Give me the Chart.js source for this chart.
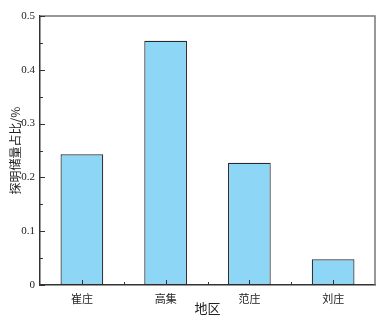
<!DOCTYPE html>
<html lang="zh">
<head>
    <meta charset="UTF-8">
    <title>探明储量占比</title>
    <script src="https://cdn.jsdelivr.net/npm/chart.js"></script>
    <style>
        html, body { margin: 0; padding: 0; background: #fff; }
        #wrap { width: 389px; height: 326px; }
    </style>
</head>
<body>
    <div id="wrap"><canvas id="chart"></canvas></div>

    <script>
        // data
        const regions = ["崔庄", "高集", "范庄", "刘庄"];
        const shares = [0.243, 0.454, 0.227, 0.048];
        const yTicks = [0, 0.1, 0.2, 0.3, 0.4, 0.5];

        const serif = "'Liberation Serif', 'DejaVu Serif', serif";
        const cjk = "'Noto Sans CJK SC', sans-serif";

        // inward ticks + top/right frame
        const frame = {
            id: "frame",
            afterDraw(chart) {
                const { ctx, chartArea: a, scales: { x, y } } = chart;
                ctx.save();
                ctx.strokeStyle = "#777";
                ctx.lineWidth = 1.5;
                ctx.beginPath();
                ctx.moveTo(a.left, a.top);
                ctx.lineTo(a.right, a.top);
                ctx.lineTo(a.right, a.bottom);
                ctx.stroke();

                ctx.strokeStyle = "#333";
                ctx.lineWidth = 1;
                ctx.beginPath();
                for (let v = 0; v <= 0.5001; v += 0.05) {
                    const py = Math.round(y.getPixelForValue(v)) + 0.5;
                    const major = Math.abs(v * 10 - Math.round(v * 10)) < 1e-6;
                    ctx.moveTo(a.left, py);
                    ctx.lineTo(a.left + (major ? 5 : 3), py);
                }
                regions.forEach((r, i) => {
                    const px = Math.round(x.getPixelForValue(i)) + 0.5;
                    ctx.moveTo(px, a.bottom);
                    ctx.lineTo(px, a.bottom - 5);
                    if (i > 0) {
                        const pm = Math.round(x.getPixelForValue(i - 0.5)) + 0.5;
                        ctx.moveTo(pm, a.bottom);
                        ctx.lineTo(pm, a.bottom - 3);
                    }
                });
                ctx.stroke();
                ctx.restore();
            }
        };

        new Chart(document.getElementById("chart"), {
            type: "bar",
            data: {
                labels: regions,
                datasets: [{
                    data: shares,
                    backgroundColor: "#8dd6f6",
                    borderColor: "#2b2b2b",
                    borderWidth: 1.2,
                    borderSkipped: false,
                    barPercentage: 0.51,
                    categoryPercentage: 1
                }]
            },
            options: {
                responsive: true,
                maintainAspectRatio: false,
                animation: false,
                layout: { padding: { left: 8, top: 16, right: 14, bottom: 10 } },
                plugins: {
                    legend: { display: false },
                    tooltip: { enabled: false }
                },
                scales: {
                    x: {
                        grid: { display: false, drawTicks: false },
                        border: { display: true, color: "#333", width: 1.5 },
                        ticks: { color: "#222", padding: 7, font: { family: cjk, size: 11 } },
                        title: {
                            display: true, text: "地区", color: "#222",
                            font: { family: cjk, size: 13 }, padding: { top: 0, bottom: 0 }
                        },
                        afterFit: s => { s.height = 31; }
                    },
                    y: {
                        min: 0,
                        max: 0.5,
                        afterBuildTicks: s => { s.ticks = yTicks.map(v => ({ value: v })); },
                        grid: { display: false, drawTicks: false },
                        border: { display: true, color: "#333", width: 1.5 },
                        ticks: {
                            color: "#222", padding: 5,
                            font: { family: serif, size: 11 },
                            callback: v => String(v)
                        },
                        title: {
                            display: true, text: "探明储量占比/%", color: "#222",
                            font: { family: cjk, size: 12 }, padding: { top: 0, bottom: 0 }
                        },
                        afterFit: s => { s.width = 32; }
                    }
                }
            },
            plugins: [frame]
        });
    </script>
</body>
</html>
